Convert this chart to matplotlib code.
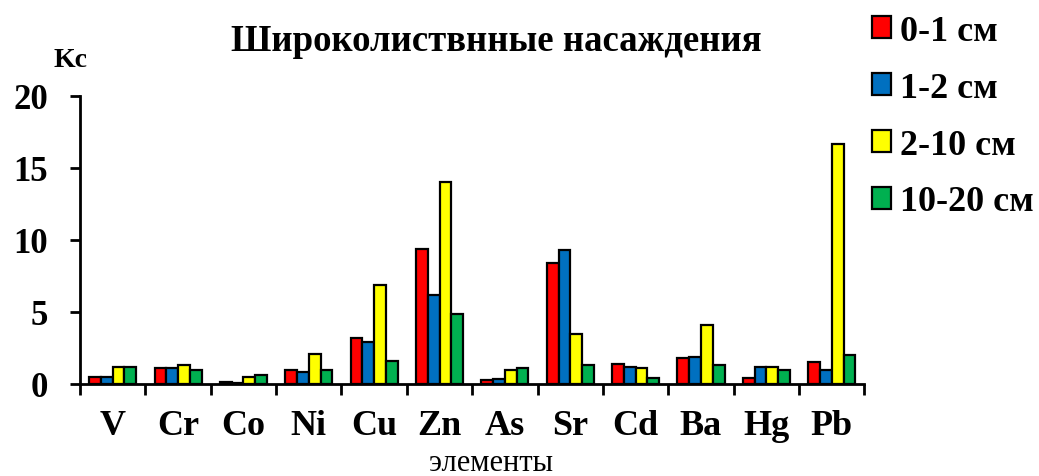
import matplotlib.pyplot as plt
import numpy as np

plt.rcParams['font.family'] = 'Liberation Serif'

elements = ['V', 'Cr', 'Co', 'Ni', 'Cu', 'Zn', 'As', 'Sr', 'Cd', 'Ba', 'Hg', 'Pb']
depths = ['0-1 см', '1-2 см', '2-10 см', '10-20 см']
colors = ['#FF0000', '#0070C0', '#FFFF00', '#00B050']

kc_0_1 = [0.5, 1.1, 0.1, 1.0, 3.2, 9.35, 0.3, 8.4, 1.4, 1.8, 0.4, 1.5]
kc_1_2 = [0.5, 1.1, 0.05, 0.8, 2.9, 6.2, 0.35, 9.3, 1.2, 1.9, 1.2, 1.0]
kc_2_10 = [1.2, 1.3, 0.5, 2.1, 6.85, 14.0, 1.0, 3.5, 1.1, 4.1, 1.2, 16.65]
kc_10_20 = [1.2, 1.0, 0.6, 1.0, 1.6, 4.85, 1.1, 1.3, 0.4, 1.3, 1.0, 2.0]
series = [kc_0_1, kc_1_2, kc_2_10, kc_10_20]

fig = plt.figure(figsize=(10.39, 4.77), dpi=100)
ax = fig.add_axes([0.077, 0.193, 0.755, 0.604])

x = np.arange(len(elements))
w = 0.18
handles = []
for i, (vals, c, lab) in enumerate(zip(series, colors, depths)):
    b = ax.bar(x + (i - 1.5) * w, vals, w, color=c, edgecolor='black',
               linewidth=1.6, label=lab)
    handles.append(b)

ax.set_xlim(-0.5, len(elements) - 0.5)
ax.set_ylim(0, 20)
ax.set_yticks([0, 5, 10, 15, 20])
ax.set_xticks(x)
ax.set_xticks(np.arange(-0.5, len(elements), 1), minor=True)
ax.set_xticklabels(elements, fontweight='bold')
ax.tick_params(axis='x', which='major', length=0, pad=18, labelsize=26)
ax.tick_params(axis='x', which='minor', length=8, width=2, direction='out')
ax.tick_params(axis='y', length=7, width=2, direction='out', labelsize=25,
               pad=16)
for lbl in ax.get_yticklabels():
    lbl.set_fontweight('bold')

for s in ['top', 'right']:
    ax.spines[s].set_visible(False)
for s in ['left', 'bottom']:
    ax.spines[s].set_linewidth(2)

fig.text(0.473, 0.012, 'элементы', ha='center', va='baseline', fontsize=22)
fig.text(0.478, 0.912, 'Широколиствнные насаждения', ha='center',
         va='center', fontsize=26.5, fontweight='bold')
fig.text(0.068, 0.874, 'Kc', ha='center', va='center', fontsize=20,
         fontweight='bold')

fig.legend(handles=handles, labels=depths, loc='upper left',
           bbox_to_anchor=(0.818, 1.012), frameon=False,
           prop={'size': 26, 'weight': 'bold'}, handlelength=0.55,
           handleheight=0.55, handletextpad=0.25, labelspacing=0.66,
           borderaxespad=0.2)

fig.savefig('out.png', dpi=100)
